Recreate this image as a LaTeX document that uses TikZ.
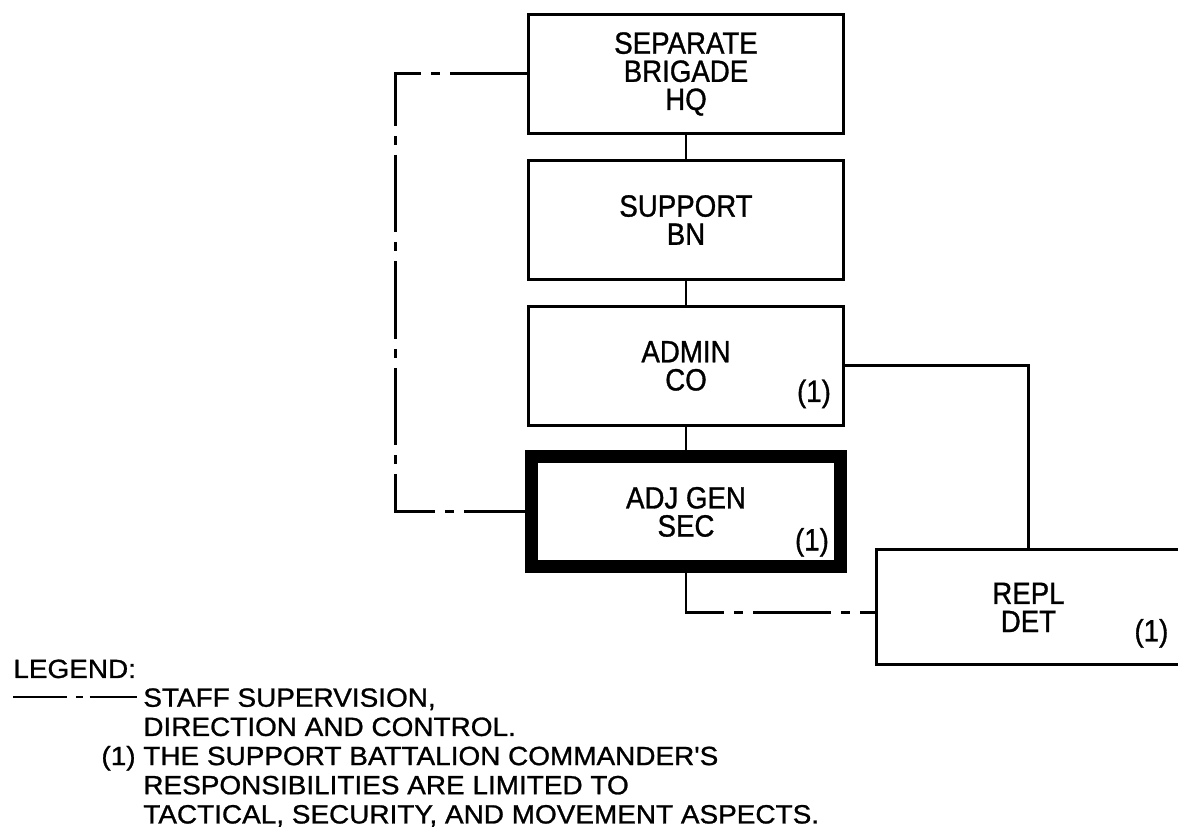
\documentclass[tikz,border=0pt]{standalone}
\usepackage{fontspec}
\setmainfont{Liberation Sans}
\newfontfamily\boxfont{Liberation Sans}[FakeStretch=0.9,FakeBold=1]
\newfontfamily\notefont{Liberation Sans}[FakeStretch=1.06,FakeBold=1]
\usepackage{tikz}

\begin{document}
\begin{tikzpicture}[x=0.02cm,y=-0.02cm,node distance=2.92cm,
    unit/.style={draw,line width=1.7pt,minimum width=6.3cm,minimum height=2.38cm,align=center,
      font=\boxfont\fontsize{17.5}{16}\selectfont},
    fn/.style={inner sep=0pt,font=\boxfont\fontsize{17.5}{17.5}\selectfont},
    link/.style={line width=1.7pt},
    staff/.style={line width=1.7pt,dash pattern=on 1.55cm off 0.2cm on 0.18cm off 0.2cm},
    legendkey/.style={line width=1.7pt,dash pattern=on 1.08cm off 0.18cm on 0.14cm off 0.14cm on 1.2cm},
    note/.style={inner sep=0pt,align=left,font=\notefont\fontsize{15}{16.6}\selectfont}]
  \useasboundingbox (0,0) rectangle (1178,830);

  \node[unit] (hq) at (686,74) {SEPARATE\\BRIGADE\\HQ};
  \node[unit,below of=hq] (bn) {SUPPORT\\BN};
  \node[unit,below of=bn] (admin) {ADMIN\\CO};
  \node[unit,below of=admin,line width=7.4pt,minimum width=6.18cm,minimum height=2.2cm] (adj) {ADJ GEN\\SEC};
  \node[unit,right of=adj,xshift=3.93cm,yshift=-1.91cm,minimum width=6.06cm,minimum height=2.3cm] (repl) {REPL\\DET};

  \node[fn] (admin1) at ([shift={(-31,-33)}]admin.south east) {(1)};
  \node[fn] (adj1) at ([shift={(-35,-31)}]adj.south east) {(1)};
  \node[fn] (repl1) at ([shift={(-30,-33)}]repl.south east) {(1)};

  \draw[link] (hq) -- (bn);
  \draw[link] (bn) -- (admin);
  \draw[link] (admin) -- (adj);
  \draw[link] (admin.east) -| (repl.north);
  \draw[staff] (hq.west) -- ++(-132,0) |- (adj.west);
  \draw[staff] (adj.south) |- ([yshift=-0.1cm]repl.west);

  \node[note,anchor=base west] (legend) at (13,678) {LEGEND:};
  \coordinate (keyL) at (13,697);
  \coordinate (keyR) at (137,697);
  \draw[legendkey] (keyL) -- (keyR);
  \node[note,anchor=north west] (notes) at (143,688) {STAFF SUPERVISION,\\DIRECTION AND CONTROL.\\\llap{(1) }THE SUPPORT BATTALION COMMANDER'S\\RESPONSIBILITIES ARE LIMITED TO\\TACTICAL, SECURITY, AND MOVEMENT ASPECTS.};
\end{tikzpicture}
\end{document}
